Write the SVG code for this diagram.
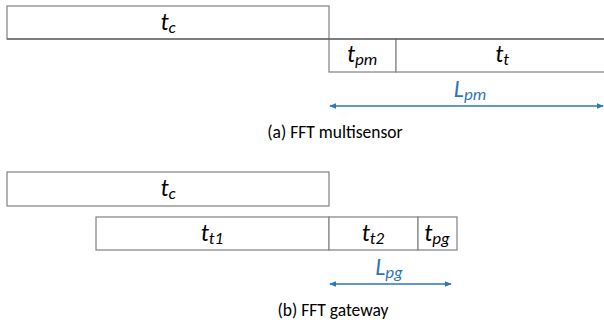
<svg xmlns="http://www.w3.org/2000/svg" width="604" height="328" viewBox="0 0 604 328">
<defs>
<marker id="ah" viewBox="0 0 10 10" refX="9" refY="5" markerWidth="7" markerHeight="7" orient="auto-start-reverse" markerUnits="userSpaceOnUse">
<path d="M0,1 L10,5 L0,9 Z" fill="#2E75B6"/>
</marker>
</defs>
<style>
.box{fill:#fff;stroke:#8a8a8a;stroke-width:1.3}
.lbl{font-family:Carlito,Lato,"Open Sans",sans-serif;font-style:italic;font-size:24px;fill:#000;text-anchor:middle}
.sub{font-size:17px}
.blue{fill:#2E75B6}
.cap{font-family:Carlito,Lato,"Open Sans",sans-serif;font-size:17.5px;fill:#000;text-anchor:middle}
.arr{stroke:#2E75B6;stroke-width:1.3;fill:none;marker-start:url(#ah);marker-end:url(#ah)}
</style>
<rect width="604" height="328" fill="#fff"/>
<g id="a_tc"><rect class="box" x="7" y="6" width="322" height="33"/><text class="lbl" x="168" y="30">t<tspan class="sub" dy="3">c</tspan></text></g>
<g id="a_tpm"><rect class="box" x="329" y="39" width="67" height="33"/><text class="lbl" x="362" y="62">t<tspan class="sub" dy="3">pm</tspan></text></g>
<g id="a_tt"><rect class="box" x="396" y="39" width="220" height="33"/><text class="lbl" x="502" y="62">t<tspan class="sub" dy="3">t</tspan></text></g>
<line x1="7" y1="39" x2="604" y2="39" stroke="#4a4a4a" stroke-width="1.1"/>
<g id="b_tc"><rect class="box" x="7" y="172" width="322" height="34"/><text class="lbl" x="168" y="196">t<tspan class="sub" dy="3">c</tspan></text></g>
<g id="b_tt1"><rect class="box" x="96" y="217" width="233" height="33"/><text class="lbl" x="212" y="241">t<tspan class="sub" dy="3">t1</tspan></text></g>
<g id="b_tt2"><rect class="box" x="329" y="217" width="89" height="33"/><text class="lbl" x="373" y="241">t<tspan class="sub" dy="3">t2</tspan></text></g>
<g id="b_tpg"><rect class="box" x="418" y="217" width="39" height="33"/><text class="lbl" x="437" y="241">t<tspan class="sub" dy="3">pg</tspan></text></g>
<g id="connectors">
<line class="arr" x1="330" y1="106" x2="603" y2="106"/>
<line class="arr" x1="330" y1="284" x2="451" y2="284"/>
</g>
<text class="lbl blue" x="470" y="97">L<tspan class="sub" dy="3">pm</tspan></text>
<text class="lbl blue" x="389" y="275">L<tspan class="sub" dy="3">pg</tspan></text>
<text class="cap" x="335" y="138">(a) FFT multisensor</text>
<text class="cap" x="333" y="316">(b) FFT gateway</text>
</svg>
